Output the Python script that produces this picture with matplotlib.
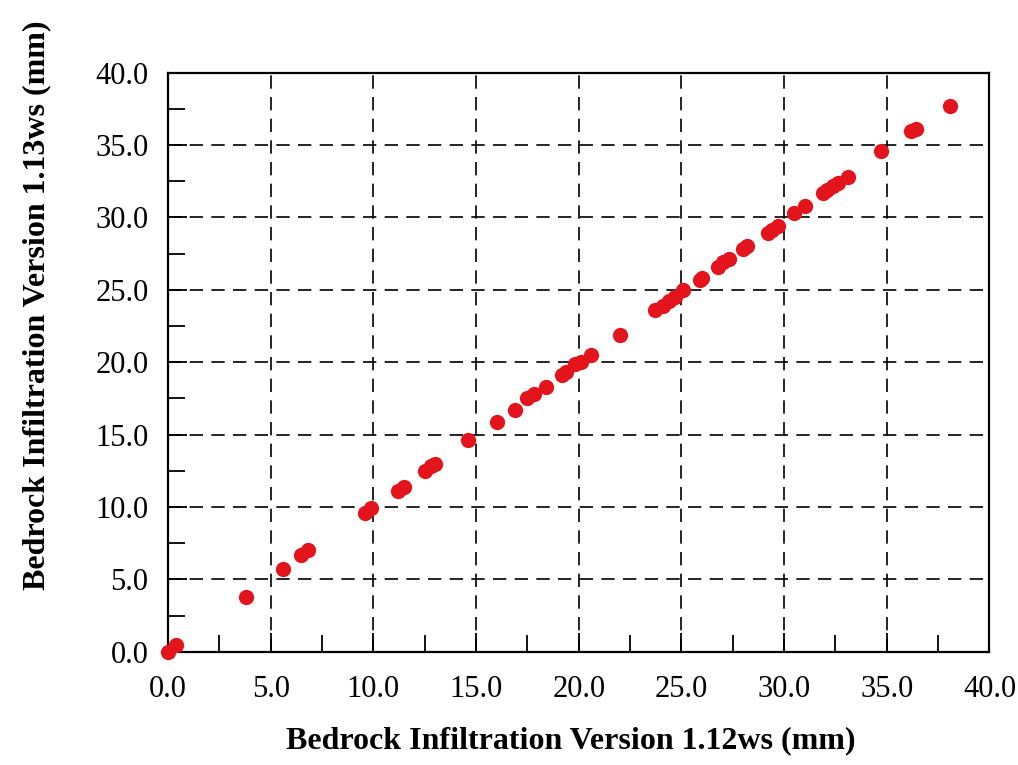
# Bedrock infiltration: version 1.12ws vs 1.13ws scatter comparison

import numpy as np
import matplotlib.pyplot as plt
from matplotlib.ticker import MultipleLocator

# values (mm)
v112 = [0.0, 0.4, 3.8, 5.6, 6.5, 6.8, 9.6, 9.9, 11.2, 11.5,
        12.5, 12.8, 13.0, 14.6, 16.0, 16.9, 17.5, 17.8, 18.4, 19.2,
        19.4, 19.8, 20.1, 20.6, 22.0, 23.7, 24.1, 24.4, 24.7, 25.1,
        25.9, 26.0, 26.8, 27.0, 27.3, 28.0, 28.2, 29.2, 29.4, 29.7,
        30.5, 31.0, 31.9, 32.1, 32.4, 32.6, 33.1, 34.7, 36.2, 36.4,
        38.1]
v113 = [0.0, 0.5, 3.8, 5.7, 6.7, 7.0, 9.6, 9.9, 11.1, 11.4,
        12.5, 12.8, 13.0, 14.6, 15.9, 16.7, 17.5, 17.8, 18.3, 19.1,
        19.3, 19.9, 20.0, 20.5, 21.9, 23.6, 23.9, 24.2, 24.5, 25.0,
        25.7, 25.8, 26.6, 26.9, 27.1, 27.8, 28.0, 28.9, 29.1, 29.4,
        30.3, 30.8, 31.7, 31.9, 32.2, 32.4, 32.8, 34.6, 36.0, 36.1,
        37.7]

x_ticks = np.arange(0, 40.1, 5.0)
y_ticks = np.arange(0, 40.1, 5.0)


def main() -> int:
    plt.rcParams["font.family"] = ["Liberation Serif", "DejaVu Serif"]

    fig = plt.figure(figsize=(10.18, 7.65), dpi=100)
    ax = fig.add_axes([0.165, 0.148, 0.807, 0.757])

    ax.plot(v112, v113, "o", color="#e3141c", markersize=11,
            markeredgewidth=0, zorder=3, clip_on=False)

    ax.set_xlim(0, 40)
    ax.set_ylim(0, 40)
    ax.set_xticks(x_ticks)
    ax.set_yticks(y_ticks)
    ax.set_xticklabels([f"{t:.1f}" for t in x_ticks])
    ax.set_yticklabels([f"{t:.1f}" for t in y_ticks])
    ax.xaxis.set_minor_locator(MultipleLocator(2.5))
    ax.yaxis.set_minor_locator(MultipleLocator(2.5))

    ax.tick_params(which="both", direction="in", top=False, right=False,
                   color="black", width=1.3)
    ax.tick_params(which="major", length=14, labelsize=22)
    ax.tick_params(axis="x", which="major", pad=17)
    ax.tick_params(axis="y", which="major", pad=14)
    ax.tick_params(which="minor", length=12)

    ax.grid(True, which="major", color="black", linestyle=(0, (8, 5)),
            linewidth=1.2)
    for spine in ax.spines.values():
        spine.set_linewidth(1.6)

    # the scanned y label sits above the axes centre
    ax.set_xlabel("Bedrock Infiltration Version 1.12ws (mm)",
                  fontsize=23, fontweight="bold")
    ax.set_ylabel("Bedrock Infiltration Version 1.13ws (mm)",
                  fontsize=23, fontweight="bold")
    ax.xaxis.set_label_coords(0.49, -0.128)
    ax.yaxis.set_label_coords(-0.142, 0.598)

    fig.savefig("out.png", dpi=100)
    return 0


if __name__ == "__main__":
    raise SystemExit(main())
